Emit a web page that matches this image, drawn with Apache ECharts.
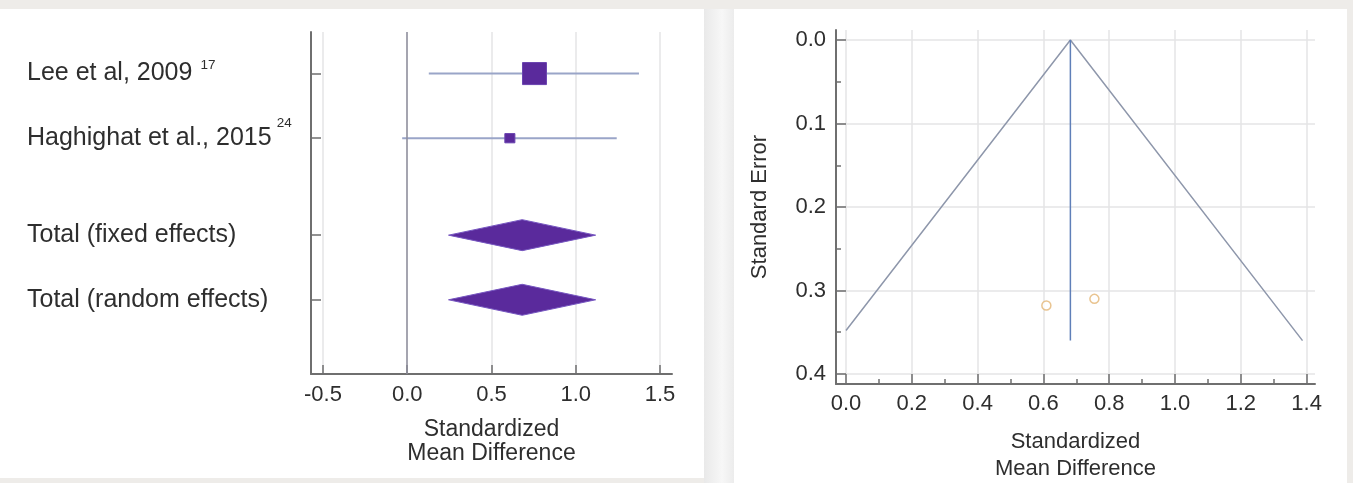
<!DOCTYPE html>
<html>
<head>
<meta charset="utf-8">
<script src="https://cdn.jsdelivr.net/npm/echarts@6/dist/echarts.min.js"></script>
<style>
html, body { margin: 0; padding: 0; background: #eeece9; }
#wrap { position: relative; width: 1353px; height: 483px; overflow: hidden; }
.panel { position: absolute; background: #ffffff; }
#gap { position: absolute; left: 704px; top: 9px; width: 30px; height: 474px;
  background: linear-gradient(to right, #e9e9e9, #f7f7f7 60%, #ececec); }
#c { position: absolute; left: 0; top: 0; width: 1353px; height: 483px; }
</style>
</head>
<body>
<div id="wrap">
  <div class="panel" style="left:0;top:9px;width:704px;height:469px;"></div>
  <div id="gap"></div>
  <div class="panel" style="left:734px;top:9px;width:613px;height:474px;"></div>
  <div id="c"></div>
</div>
<script>
// ---------------- data ----------------
const studyNames = ['Lee et al, 2009', 'Haghighat et al., 2015'];
const studyRefs = ['17', '24'];
const studySMD = [0.755, 0.609];
const studyLow = [0.128, -0.03];
const studyHigh = [1.375, 1.243];
const studyWeight = [85, 15];
const studySE = [0.31, 0.318];

const pooledNames = ['Total (fixed effects)', 'Total (random effects)'];
const pooledSMD = [0.682, 0.682];
const pooledLow = [0.245, 0.245];
const pooledHigh = [1.118, 1.118];

const nullEffect = 0;
const funnelMaxSE = 0.36;

const forestTicks = [-0.5, 0, 0.5, 1.0, 1.5];
const funnelXTicks = [0, 0.2, 0.4, 0.6, 0.8, 1.0, 1.2, 1.4];
const funnelXMinor = [0.1, 0.3, 0.5, 0.7, 0.9, 1.1, 1.3];
const funnelYTicks = [0, 0.1, 0.2, 0.3, 0.4];
const funnelYMinor = [0.05, 0.15, 0.25, 0.35];

// ---------------- layout helpers ----------------
const rowY = [1, 2, 3.5, 4.5];          // vertical slots of the forest rows
const FONT = "'Liberation Sans', Arial, sans-serif";
const AXIS_COLOR = '#6f6f6f';
const GRID_COLOR = '#e4e4e6';
const TEXT_COLOR = '#2e2e2e';
const PURPLE = '#5a2a9c';

const rowLabels = [
  '{m|' + studyNames[0] + '}{s1|' + studyRefs[0] + '}',
  '{m|' + studyNames[1] + '}{s2|' + studyRefs[1] + '}',
  '{m|' + pooledNames[0] + '}',
  '{m|' + pooledNames[1] + '}'
];

const studyData = studyNames.map((n, i) => [studyLow[i], studySMD[i], studyHigh[i], rowY[i], studyWeight[i]]);
const pooledData = pooledNames.map((n, i) => [pooledLow[i], pooledSMD[i], pooledHigh[i], rowY[i + 2]]);

const pooledEst = pooledSMD[0];
const funnelLimits = [
  [0, pooledEst / 1.96],
  [pooledEst, 0],
  [pooledEst + 1.96 * funnelMaxSE, funnelMaxSE]
];
const funnelCentre = [[pooledEst, 0], [pooledEst, funnelMaxSE]];
const funnelPoints = studySMD.map((v, i) => [v, studySE[i]]);

const chart = echarts.init(document.getElementById('c'), null, { renderer: 'canvas' });

const fmt1 = v => Number(v).toFixed(1);

chart.setOption({
  animation: false,
  textStyle: { fontFamily: FONT },
  grid: [
    { left: 311, top: 32, width: 361, height: 342, outerBoundsMode: 'none', containLabel: false },
    { left: 836, top: 30, width: 479, height: 354, outerBoundsMode: 'none', containLabel: false }
  ],
  xAxis: [
    {
      gridIndex: 0, type: 'value', min: -0.571, max: 1.571,
      axisLine: { show: true, onZero: false, lineStyle: { color: AXIS_COLOR, width: 2 } },
      axisTick: { show: true, inside: true, length: 9, customValues: forestTicks, lineStyle: { color: AXIS_COLOR, width: 1.5 } },
      axisLabel: { customValues: forestTicks, formatter: fmt1, fontSize: 22, color: TEXT_COLOR, margin: 10, fontFamily: FONT },
      splitLine: { show: true, lineStyle: { color: GRID_COLOR, width: 1.5 } },
      name: 'Standardized\nMean Difference', nameLocation: 'middle', nameGap: 44,
      nameTextStyle: { fontSize: 23, lineHeight: 24, color: TEXT_COLOR, fontFamily: FONT }
    },
    {
      gridIndex: 1, type: 'value', position: 'bottom', min: -0.0304, max: 1.4255,
      axisLine: { show: true, onZero: false, lineStyle: { color: AXIS_COLOR, width: 2 } },
      axisTick: { show: true, inside: true, length: 10, customValues: funnelXTicks, lineStyle: { color: AXIS_COLOR, width: 1.5 } },
      axisLabel: { customValues: funnelXTicks, formatter: fmt1, fontSize: 22, color: TEXT_COLOR, margin: 9, fontFamily: FONT },
      splitLine: { show: true, lineStyle: { color: GRID_COLOR, width: 1.5 } },
      name: 'Standardized\nMean Difference', nameLocation: 'middle', nameGap: 44,
      nameTextStyle: { fontSize: 22, lineHeight: 27, color: TEXT_COLOR, fontFamily: FONT }
    },
    {
      gridIndex: 1, type: 'value', position: 'bottom', offset: 0, min: -0.0304, max: 1.4255,
      axisLine: { show: false, onZero: false },
      axisTick: { show: true, inside: true, length: 5, customValues: funnelXMinor, lineStyle: { color: AXIS_COLOR, width: 1.5 } },
      axisLabel: { show: false },
      splitLine: { show: false }
    }
  ],
  yAxis: [
    {
      gridIndex: 0, type: 'value', inverse: true, min: 0.357, max: 5.648,
      axisLine: { show: true, onZero: false, lineStyle: { color: AXIS_COLOR, width: 2 } },
      axisTick: { show: true, inside: true, length: 10, customValues: rowY, lineStyle: { color: AXIS_COLOR, width: 1.5 } },
      axisLabel: {
        customValues: rowY, align: 'left', margin: 284,
        formatter: v => rowLabels[rowY.indexOf(v)] || '',
        rich: {
          m: { fontSize: 25, color: TEXT_COLOR, fontFamily: FONT },
          s1: { fontSize: 13.5, color: TEXT_COLOR, fontFamily: FONT, padding: [0, 0, 17, 8] },
          s2: { fontSize: 13.5, color: TEXT_COLOR, fontFamily: FONT, padding: [0, 0, 30, 5] }
        }
      },
      splitLine: { show: false }
    },
    {
      gridIndex: 1, type: 'value', inverse: true, position: 'left', min: -0.012, max: 0.412,
      axisLine: { show: true, onZero: false, lineStyle: { color: AXIS_COLOR, width: 2 } },
      axisTick: { show: true, inside: true, length: 10, customValues: funnelYTicks, lineStyle: { color: AXIS_COLOR, width: 1.5 } },
      axisLabel: { customValues: funnelYTicks, formatter: fmt1, fontSize: 22, color: TEXT_COLOR, margin: 10, fontFamily: FONT },
      splitLine: { show: true, lineStyle: { color: GRID_COLOR, width: 1.5 } },
      name: 'Standard Error', nameLocation: 'middle', nameGap: 65, nameRotate: 90,
      nameTextStyle: { fontSize: 22, color: TEXT_COLOR, fontFamily: FONT }
    },
    {
      gridIndex: 1, type: 'value', inverse: true, position: 'left', offset: 0, min: -0.012, max: 0.412,
      axisLine: { show: false, onZero: false },
      axisTick: { show: true, inside: true, length: 5, customValues: funnelYMinor, lineStyle: { color: AXIS_COLOR, width: 1.5 } },
      axisLabel: { show: false },
      splitLine: { show: false }
    }
  ],
  series: [
    {
      name: 'Studies', type: 'custom', xAxisIndex: 0, yAxisIndex: 0,
      encode: { x: [0, 1, 2], y: 3 },
      data: studyData,
      renderItem: function (params, api) {
        const y = api.value(3);
        const lo = api.coord([api.value(0), y]);
        const hi = api.coord([api.value(2), y]);
        const c = api.coord([api.value(1), y]);
        const w = Math.sqrt(api.value(4)) * 2.6;
        const h = w * 0.92;
        return {
          type: 'group',
          children: [
            { type: 'line', shape: { x1: lo[0], y1: lo[1], x2: hi[0], y2: hi[1] },
              style: { stroke: '#9aa5c8', lineWidth: 2 } },
            { type: 'rect', shape: { x: c[0] - w / 2, y: c[1] - h / 2, width: w, height: h },
              style: { fill: PURPLE, stroke: '#6b45b0', lineWidth: 1 } }
          ]
        };
      },
      markLine: {
        silent: true, symbol: 'none', label: { show: false },
        lineStyle: { color: '#8e8e9c', width: 1.5, type: 'solid' },
        data: [{ xAxis: nullEffect }]
      },
      z: 3
    },
    {
      name: 'Pooled', type: 'custom', xAxisIndex: 0, yAxisIndex: 0,
      encode: { x: [0, 1, 2], y: 3 },
      data: pooledData,
      renderItem: function (params, api) {
        const y = api.value(3);
        const lo = api.coord([api.value(0), y]);
        const hi = api.coord([api.value(2), y]);
        const c = api.coord([api.value(1), y]);
        const hh = 15.5;
        return {
          type: 'polygon',
          shape: { points: [[lo[0], lo[1]], [c[0], c[1] - hh], [hi[0], hi[1]], [c[0], c[1] + hh]] },
          style: { fill: PURPLE, stroke: '#7656c0', lineWidth: 1 }
        };
      },
      z: 3
    },
    {
      name: 'Funnel limits', type: 'line', xAxisIndex: 1, yAxisIndex: 1,
      data: funnelLimits, symbol: 'none',
      lineStyle: { color: '#8e97ab', width: 1.5 }, z: 3
    },
    {
      name: 'Pooled estimate', type: 'line', xAxisIndex: 1, yAxisIndex: 1,
      data: funnelCentre, symbol: 'none',
      lineStyle: { color: '#5f7fb8', width: 1.5 }, z: 3
    },
    {
      name: 'Studies (funnel)', type: 'scatter', xAxisIndex: 1, yAxisIndex: 1,
      data: funnelPoints, symbol: 'circle', symbolSize: 9,
      itemStyle: { color: '#ffffff', borderColor: '#e3b574', borderWidth: 1.5 }, z: 4
    }
  ]
});
</script>
</body>
</html>
